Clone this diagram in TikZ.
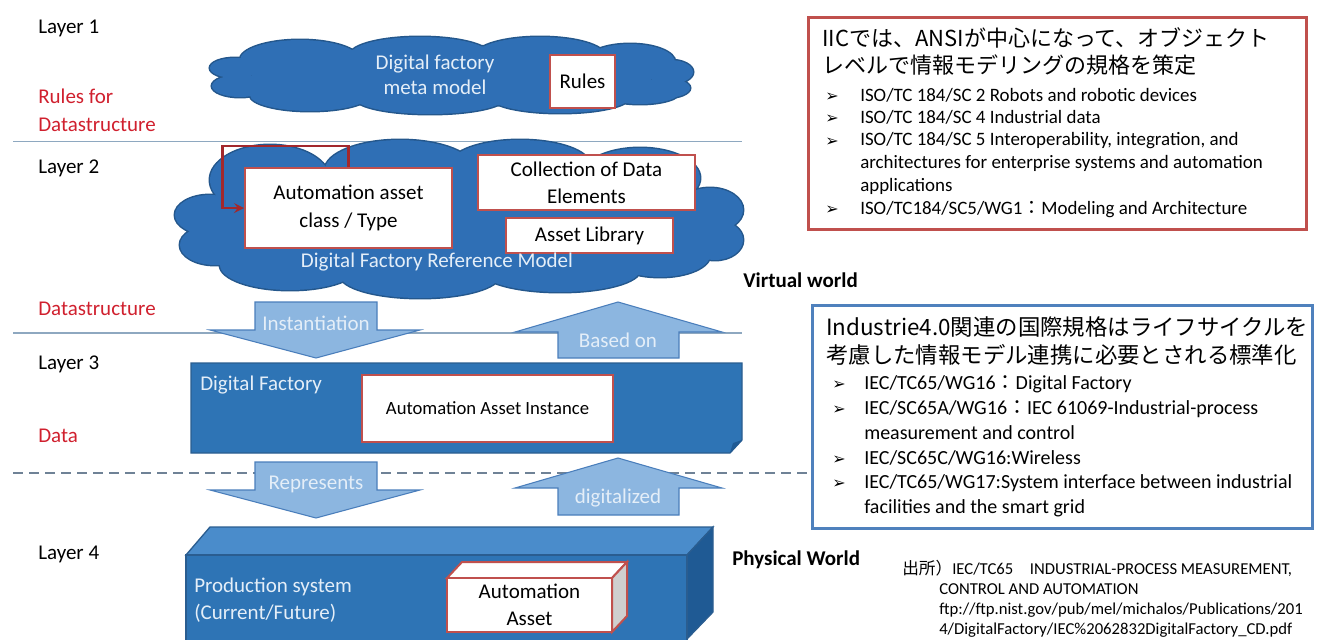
\documentclass[tikz,border=0pt]{standalone}
\usepackage{fontspec}
\setmainfont{Carlito}
\newfontfamily\jpfont{Noto Sans CJK JP}
\newfontfamily\dingfont{DejaVu Sans}
\usepackage{xcolor}
\usepackage{tikz}
\usetikzlibrary{arrows}

\definecolor{cloudblue}{HTML}{2F6FB5}
\definecolor{cloudedge}{HTML}{24578C}
\definecolor{layerblue}{HTML}{2E74B5}
\definecolor{layertop}{HTML}{4A8CCB}
\definecolor{layerside}{HTML}{1F5A94}
\definecolor{layeredge}{HTML}{2A5D90}
\definecolor{arrowblue}{HTML}{8CB6E0}
\definecolor{arrowedge}{HTML}{4A7EBB}
\definecolor{paletext}{HTML}{E4EEF8}
\definecolor{labelred}{HTML}{D0202E}
\definecolor{boxred}{HTML}{C0504D}
\definecolor{loopred}{HTML}{A3282C}
\definecolor{iecblue}{HTML}{4F81BD}
\definecolor{rulegrey}{HTML}{8EA8C0}
\definecolor{dashgrey}{HTML}{6F8296}
\definecolor{assetgrey}{HTML}{CFCFCF}

\newcommand\metacloud{(452,76) ellipse [x radius=200, y radius=30]
  (300,60) ellipse [x radius=60, y radius=20] (420,55) ellipse [x radius=70, y radius=18]
  (540,56) ellipse [x radius=65, y radius=19] (630,62) ellipse [x radius=45, y radius=18]
  (235,68) ellipse [x radius=25, y radius=10] (240,86) ellipse [x radius=28, y radius=11]
  (670,72) ellipse [x radius=23, y radius=12] (665,88) ellipse [x radius=25, y radius=10]
  (310,95) ellipse [x radius=60, y radius=16] (430,98) ellipse [x radius=75, y radius=16]
  (560,97) ellipse [x radius=70, y radius=16] (640,92) ellipse [x radius=40, y radius=12]}
\newcommand\refcloud{(460,220) ellipse [x radius=250, y radius=62]
  (270,180) ellipse [x radius=60, y radius=35] (400,170) ellipse [x radius=75, y radius=30]
  (520,165) ellipse [x radius=70, y radius=25] (640,178) ellipse [x radius=60, y radius=30]
  (210,215) ellipse [x radius=35, y radius=20] (215,245) ellipse [x radius=35, y radius=20]
  (710,210) ellipse [x radius=33, y radius=22] (715,240) ellipse [x radius=28, y radius=20]
  (290,265) ellipse [x radius=70, y radius=25] (420,275) ellipse [x radius=80, y radius=23]
  (560,270) ellipse [x radius=80, y radius=22] (660,255) ellipse [x radius=50, y radius=22]}

\tikzset{
  layerlabel/.style={anchor=base west, inner sep=0pt, font=\fontsize{15.75}{21}\selectfont},
  rulelabel/.style={layerlabel, text=labelred},
  worldlabel/.style={layerlabel, font=\bfseries\fontsize{15.75}{21}\selectfont},
  paletitle/.style={text=paletext, inner sep=0pt, align=center, font=\fontsize{15.75}{18.75}\selectfont},
  assetbox/.style={draw=boxred, line width=1.5pt, fill=white, inner sep=0pt, align=center, font=\fontsize{15.75}{20.5}\selectfont},
  assetedge/.style={draw=boxred, line width=1.5pt},
  cloudrim/.style={draw=cloudedge, line width=2.2pt},
  cloudbody/.style={fill=cloudblue},
  blockarrow/.style={fill=arrowblue, draw=arrowedge, line width=0.8pt},
  arrowlabel/.style={anchor=base, inner sep=0pt, text=paletext, font=\fontsize{15.75}{20}\selectfont},
  layerface/.style={fill=layerblue, draw=layeredge, line width=1pt},
  layerrule/.style={draw=rulegrey, line width=1.1pt},
  worldrule/.style={draw=dashgrey, line width=1.6pt, dash pattern=on 7.5pt off 4.5pt},
  selfloop/.style={draw=loopred, line width=2.2pt, -stealth},
  jptitle/.style={anchor=base west, inner sep=0pt, align=left},
  listbullet/.style={anchor=base west, inner sep=0pt, font=\dingfont\fontsize{12}{12}\selectfont},
  listitem/.style={anchor=base west, inner sep=0pt, align=left}
}

\begin{document}
\begin{tikzpicture}[x=0.75pt,y=-0.75pt]
\useasboundingbox (0,0) rectangle (1320,639);
\draw[layerrule] (13,141.7) -- (742,141.7);
\draw[layerrule] (13,333) -- (742,333);
\draw[worldrule] (13,473) -- (812,473);

\node[layerlabel] (layer1) at (38,33) {Layer 1};
	\node[rulelabel] (rules1) at (38,103) {Rules for};
	\node[rulelabel] (rules1b) at (38,131) {Datastructure};
\node[layerlabel] (layer2) at (38,173) {Layer 2};
	\node[rulelabel] (rules2) at (38,315) {Datastructure};
\node[layerlabel] (layer3) at (38,369) {Layer 3};
	\node[rulelabel] (rules3) at (38,442) {Data};
\node[layerlabel] (layer4) at (38,559) {Layer 4};

\draw[cloudrim] \metacloud;
\fill[cloudbody] \metacloud;
	\node[paletitle] (metatext) at (435,75) {Digital factory\\meta model};
	\node[assetbox, minimum width=48.75pt, minimum height=39.75pt] (rules) at (582.5,81.5) {Rules};
\draw[cloudrim] \refcloud;
\fill[cloudbody] \refcloud;
	\node[assetbox, minimum width=155.25pt, minimum height=60pt] (aat) at (348.5,208) {Automation asset\\class / Type};
	\node[assetbox, minimum width=162.75pt, minimum height=41.25pt] (coll) at (586.5,182.5) {Collection of Data\\Elements};
	\node[assetbox, minimum width=125.25pt, minimum height=26.25pt] (alib) at (589.5,235.5) {Asset Library};
	\node[arrowlabel] (reftext) at (437,267) {Digital Factory Reference Model};
\draw[selfloop] (aat.north) -- ++(0,-21) -- ++(-126,0) |- (aat.west);

\draw[blockarrow] (255,302) -- (377,302) -- (377,330) -- (420,330) -- (316,358) -- (210,330) -- (255,330) -- cycle;
	\node[arrowlabel] (inst) at (316,330) {Instantiation};
\draw[blockarrow] (558,358) -- (679,358) -- (679,332) -- (722,332) -- (618,302) -- (515,332) -- (558,332) -- cycle;
	\node[arrowlabel] (based) at (618,347) {Based on};

\draw[layerface] (191,363) -- (742,363) -- (742,440) -- (730,453) -- (191,453) -- cycle;
\fill[layerside] (742,440) -- (733,443) -- (730,453) -- cycle;
	\node[layerlabel, text=paletext] (dftext) at (200,390) {Digital Factory};
	\node[assetbox, minimum width=188.25pt, minimum height=50.25pt, font=\fontsize{14}{17}\selectfont] (aai) at (487.5,408.5) {Automation Asset Instance};

\draw[blockarrow] (255,462) -- (377,462) -- (377,490) -- (420,490) -- (316,518) -- (210,490) -- (255,490) -- cycle;
	\node[arrowlabel] (repr) at (316,489) {Represents};
\draw[blockarrow] (558,515) -- (679,515) -- (679,488) -- (722,488) -- (618,458) -- (515,488) -- (558,488) -- cycle;
	\node[arrowlabel] (digi) at (618,503) {digitalized};

\draw[layerface, fill=layertop] (186,555) -- (210,527) -- (713,527) -- (687,555) -- cycle;
\draw[layerface, fill=layerside] (687,555) -- (713,527) -- (713,612) -- (687,639) -- cycle;
\draw[layerface] (186,555) rectangle (687,641);
	\node[layerlabel, anchor=west, align=left, text=paletext, font=\fontsize{15.75}{20}\selectfont] (prodtext) at (194,600) {Production system\\(Current/Future)};
\draw[assetedge, fill=white] (447,578) -- (462,562) -- (627,562) -- (612,578) -- cycle;
\draw[assetedge, fill=assetgrey] (612,578) -- (627,562) -- (627,616) -- (612,632) -- cycle;
	\node[assetbox, minimum width=123.75pt, minimum height=40.5pt] (asset) at (529.5,605) {Automation\\Asset};

\node[worldlabel] (virtual) at (743,287) {Virtual world};
\node[worldlabel] (physical) at (732,565) {Physical World};

\node[draw=boxred, line width=2.25pt, fill=white, minimum width=373.5pt, minimum height=159pt] (iicbox) at (1057,123) {};
	\node[jptitle, font=\jpfont\fontsize{16.5}{20.25}\selectfont] (iictitle) at (822,73.5) {IICでは、ANSIが中心になって、オブジェクト\\レベルで情報モデリングの規格を策定};
\foreach \y in {101,123,146,214}
	\node[listbullet] (iicb\y) at (825,\y) {➢};
\begin{scope}[every node/.append style={font=\fontsize{14.2}{17}\selectfont}]
	\node[listitem] (iic1) at (860,101) {ISO/TC 184/SC 2 Robots and robotic devices};
	\node[listitem] (iic2) at (860,123) {ISO/TC 184/SC 4 Industrial data};
	\node[listitem] (iic3) at (860,191.2) {ISO/TC 184/SC 5 Interoperability, integration, and\\architectures for enterprise systems and automation\\applications};
	\node[listitem] (iic4) at (860,214) {ISO/TC184/SC5/WG1{\jpfont ：}Modeling and Architecture};
\end{scope}

\node[draw=iecblue, line width=2.25pt, fill=white, minimum width=375pt, minimum height=167.25pt] (iecbox) at (1062,416.5) {};
	\node[jptitle, font=\jpfont\fontsize{16.8}{21}\selectfont] (iectitle) at (826,363.5) {Industrie4.0関連の国際規格はライフサイクルを\\考慮した情報モデル連携に必要とされる標準化};
\foreach \y in {389.5,414.5,464.5,488.5}
	\node[listbullet] (iecb\y) at (832,\y) {➢};
\begin{scope}[every node/.append style={font=\fontsize{15}{18.75}\selectfont}]
	\node[listitem] (iec1) at (864,389.5) {IEC/TC65/WG16{\jpfont ：}Digital Factory};
	\node[listitem] (iec2) at (864,439.5) {IEC/SC65A/WG16{\jpfont ：}IEC 61069-Industrial-process\\measurement and control};
	\node[listitem] (iec3) at (864,464.5) {IEC/SC65C/WG16:Wireless};
	\node[listitem] (iec4) at (864,513.5) {IEC/TC65/WG17:System interface between industrial\\facilities and the smart grid};
\end{scope}

\node[listitem, font=\fontsize{12.5}{15}\selectfont] (source) at (902,634) {{\jpfont 出所）}IEC/TC65{\jpfont 　}INDUSTRIAL-PROCESS MEASUREMENT,\\\hspace*{27.75pt}CONTROL AND AUTOMATION\\\hspace*{27.75pt}ftp://ftp.nist.gov/pub/mel/michalos/Publications/201\\\hspace*{27.75pt}4/DigitalFactory/IEC\%2062832DigitalFactory\_CD.pdf};
\end{tikzpicture}
\end{document}
